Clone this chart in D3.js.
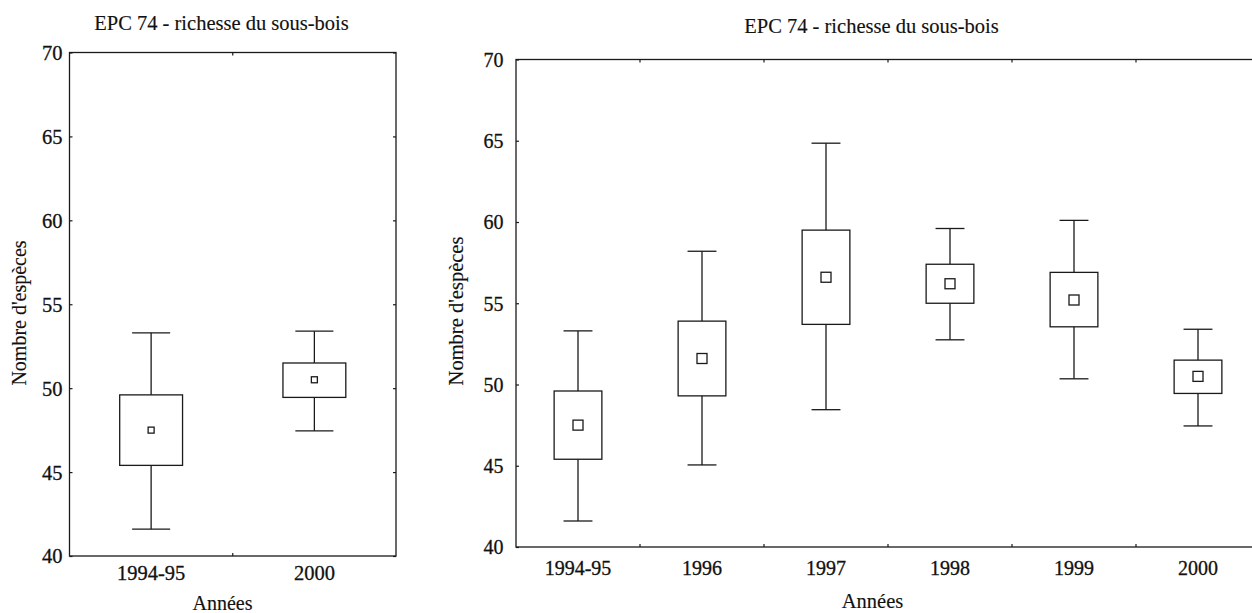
<!DOCTYPE html>
<html>
<head>
<meta charset="utf-8">
<script src="https://cdn.jsdelivr.net/npm/d3@7"></script>
<style>
  html, body { margin: 0; padding: 0; background: #fff; }
  svg { display: block; }
</style>
</head>
<body>
<svg id="chart" width="1252" height="613"></svg>
<script>
// Species richness of the understorey, by survey year (box: quartiles, whiskers: range, square: mean)
const years       = ["1994-95", "1996", "1997", "1998", "1999", "2000"];
const whiskerHigh = [53.3, 58.2, 64.85, 59.6, 60.1, 53.4];
const boxHigh     = [49.6, 53.9, 59.5, 57.4, 56.9, 51.5];
const meanValue   = [47.5, 51.6, 56.6, 56.2, 55.2, 50.5];
const boxLow      = [45.4, 49.3, 53.7, 55.0, 53.55, 49.45];
const whiskerLow  = [41.6, 45.05, 48.45, 52.75, 50.35, 47.45];
const yTicks      = [40, 45, 50, 55, 60, 65, 70];

const title = "EPC 74 - richesse du sous-bois";
const yTitle = "Nombre d'espèces";
const xTitle = "Années";

const rows = years.map((y, i) => ({
  year: y, wHi: whiskerHigh[i], bHi: boxHigh[i], mean: meanValue[i],
  bLo: boxLow[i], wLo: whiskerLow[i]
}));

const FONT = "'Liberation Serif', 'Times New Roman', 'DejaVu Serif', serif";
const svg = d3.select("#chart");
const ink = "#1a1a1a";

function styleText(sel, size, weight) {
  sel.style("font-family", FONT)
     .style("font-size", size + "px")
     .style("fill", "#111")
     .style("stroke", "#111")
     .style("stroke-width", weight + "px");
}

function panel(cfg) {
  const data = rows.filter(d => cfg.years.includes(d.year));
  const x = d3.scaleBand().domain(cfg.years).range([cfg.x0, cfg.x1]).padding(0);
  const y = d3.scaleLinear().domain([40, 70]).range([cfg.y1, cfg.y0]);
  const g = svg.append("g");

  // frame
  g.append("rect")
    .attr("x", cfg.x0).attr("y", cfg.y0)
    .attr("width", cfg.x1 - cfg.x0).attr("height", cfg.y1 - cfg.y0)
    .attr("fill", "none").attr("stroke", ink).attr("stroke-width", 1.3);

  // left axis: inward ticks
  const yAxis = g.append("g")
    .attr("transform", `translate(${cfg.x0},0)`)
    .call(d3.axisLeft(y).tickValues(yTicks).tickSize(-3).tickPadding(cfg.yPad).tickFormat(d3.format("d")));
  yAxis.attr("font-family", null).attr("font-size", null);
  yAxis.select(".domain").remove();
  yAxis.selectAll(".tick line").attr("stroke", ink).attr("stroke-width", 1.2);
  yAxis.selectAll(".tick text").attr("dy", "0.34em").call(styleText, cfg.tickFont, 0.3);

  // right edge: inward ticks
  const yAxisR = g.append("g")
    .attr("transform", `translate(${cfg.x1},0)`)
    .call(d3.axisRight(y).tickValues(yTicks).tickSize(-3).tickFormat(""));
  yAxisR.select(".domain").remove();
  yAxisR.selectAll(".tick line").attr("stroke", ink).attr("stroke-width", 1.2);

  // category boundaries on top and bottom edges
  const bounds = cfg.years.slice(1).map(c => x(c));
  g.selectAll("line.bt").data(bounds).join("line")
    .attr("x1", d => d).attr("x2", d => d)
    .attr("y1", cfg.y1).attr("y2", cfg.y1 - 3)
    .attr("stroke", ink).attr("stroke-width", 1.2);
  g.selectAll("line.tp").data(bounds).join("line")
    .attr("x1", d => d).attr("x2", d => d)
    .attr("y1", cfg.y0).attr("y2", cfg.y0 + 3)
    .attr("stroke", ink).attr("stroke-width", 1.2);

  // x tick labels
  g.selectAll("text.xl").data(cfg.years).join("text")
    .attr("x", d => x(d) + x.bandwidth() / 2)
    .attr("y", cfg.xLabelY)
    .attr("text-anchor", "middle")
    .text(d => d)
    .call(styleText, cfg.tickFont, 0.3);

  const bw = x.bandwidth();
  const boxW = bw * 0.385, capW = bw * 0.233;
  const items = g.selectAll("g.box").data(data).join("g")
    .attr("transform", d => `translate(${x(d.year) + bw / 2},0)`);

  items.append("line")
    .attr("x1", 0).attr("x2", 0)
    .attr("y1", d => y(d.wHi)).attr("y2", d => y(d.wLo))
    .attr("stroke", ink).attr("stroke-width", 1.3);
  items.append("line")
    .attr("x1", -capW / 2).attr("x2", capW / 2)
    .attr("y1", d => y(d.wHi)).attr("y2", d => y(d.wHi))
    .attr("stroke", ink).attr("stroke-width", 1.3);
  items.append("line")
    .attr("x1", -capW / 2).attr("x2", capW / 2)
    .attr("y1", d => y(d.wLo)).attr("y2", d => y(d.wLo))
    .attr("stroke", ink).attr("stroke-width", 1.3);
  items.append("rect")
    .attr("x", -boxW / 2).attr("width", boxW)
    .attr("y", d => y(d.bHi)).attr("height", d => y(d.bLo) - y(d.bHi))
    .attr("fill", "#fff").attr("stroke", ink).attr("stroke-width", 1.3);
  items.append("rect")
    .attr("x", -cfg.marker / 2).attr("width", cfg.marker)
    .attr("y", d => y(d.mean) - cfg.marker / 2).attr("height", cfg.marker)
    .attr("fill", "#fff").attr("stroke", ink).attr("stroke-width", 1.3);

  // titles
  g.append("text")
    .attr("x", cfg.titleX).attr("y", cfg.titleY)
    .attr("text-anchor", "middle")
    .text(title)
    .call(styleText, cfg.titleFont, 0.15);
  g.append("text")
    .attr("transform", `translate(${cfg.yTitleX},${cfg.yTitleY}) rotate(-90)`)
    .attr("text-anchor", "middle")
    .text(yTitle)
    .call(styleText, cfg.axisFont, 0.15);
  g.append("text")
    .attr("x", cfg.titleX + 1).attr("y", cfg.xTitleY)
    .attr("text-anchor", "middle")
    .text(xTitle)
    .call(styleText, cfg.axisFont, 0.15);
}

panel({
  years: ["1994-95", "2000"],
  x0: 69.5, x1: 396, y0: 52.5, y1: 556,
  yPad: 7, tickFont: 20.5, xLabelY: 580, marker: 6,
  titleX: 221.5, titleY: 30, titleFont: 20.5,
  yTitleX: 26, yTitleY: 313, xTitleY: 610, axisFont: 20
});

panel({
  years: years,
  x0: 516, x1: 1260, y0: 59.5, y1: 547,
  yPad: 12.5, tickFont: 20, xLabelY: 575, marker: 10,
  titleX: 871.5, titleY: 33, titleFont: 20.5,
  yTitleX: 463, yTitleY: 311, xTitleY: 608, axisFont: 20.5
});
</script>
</body>
</html>
